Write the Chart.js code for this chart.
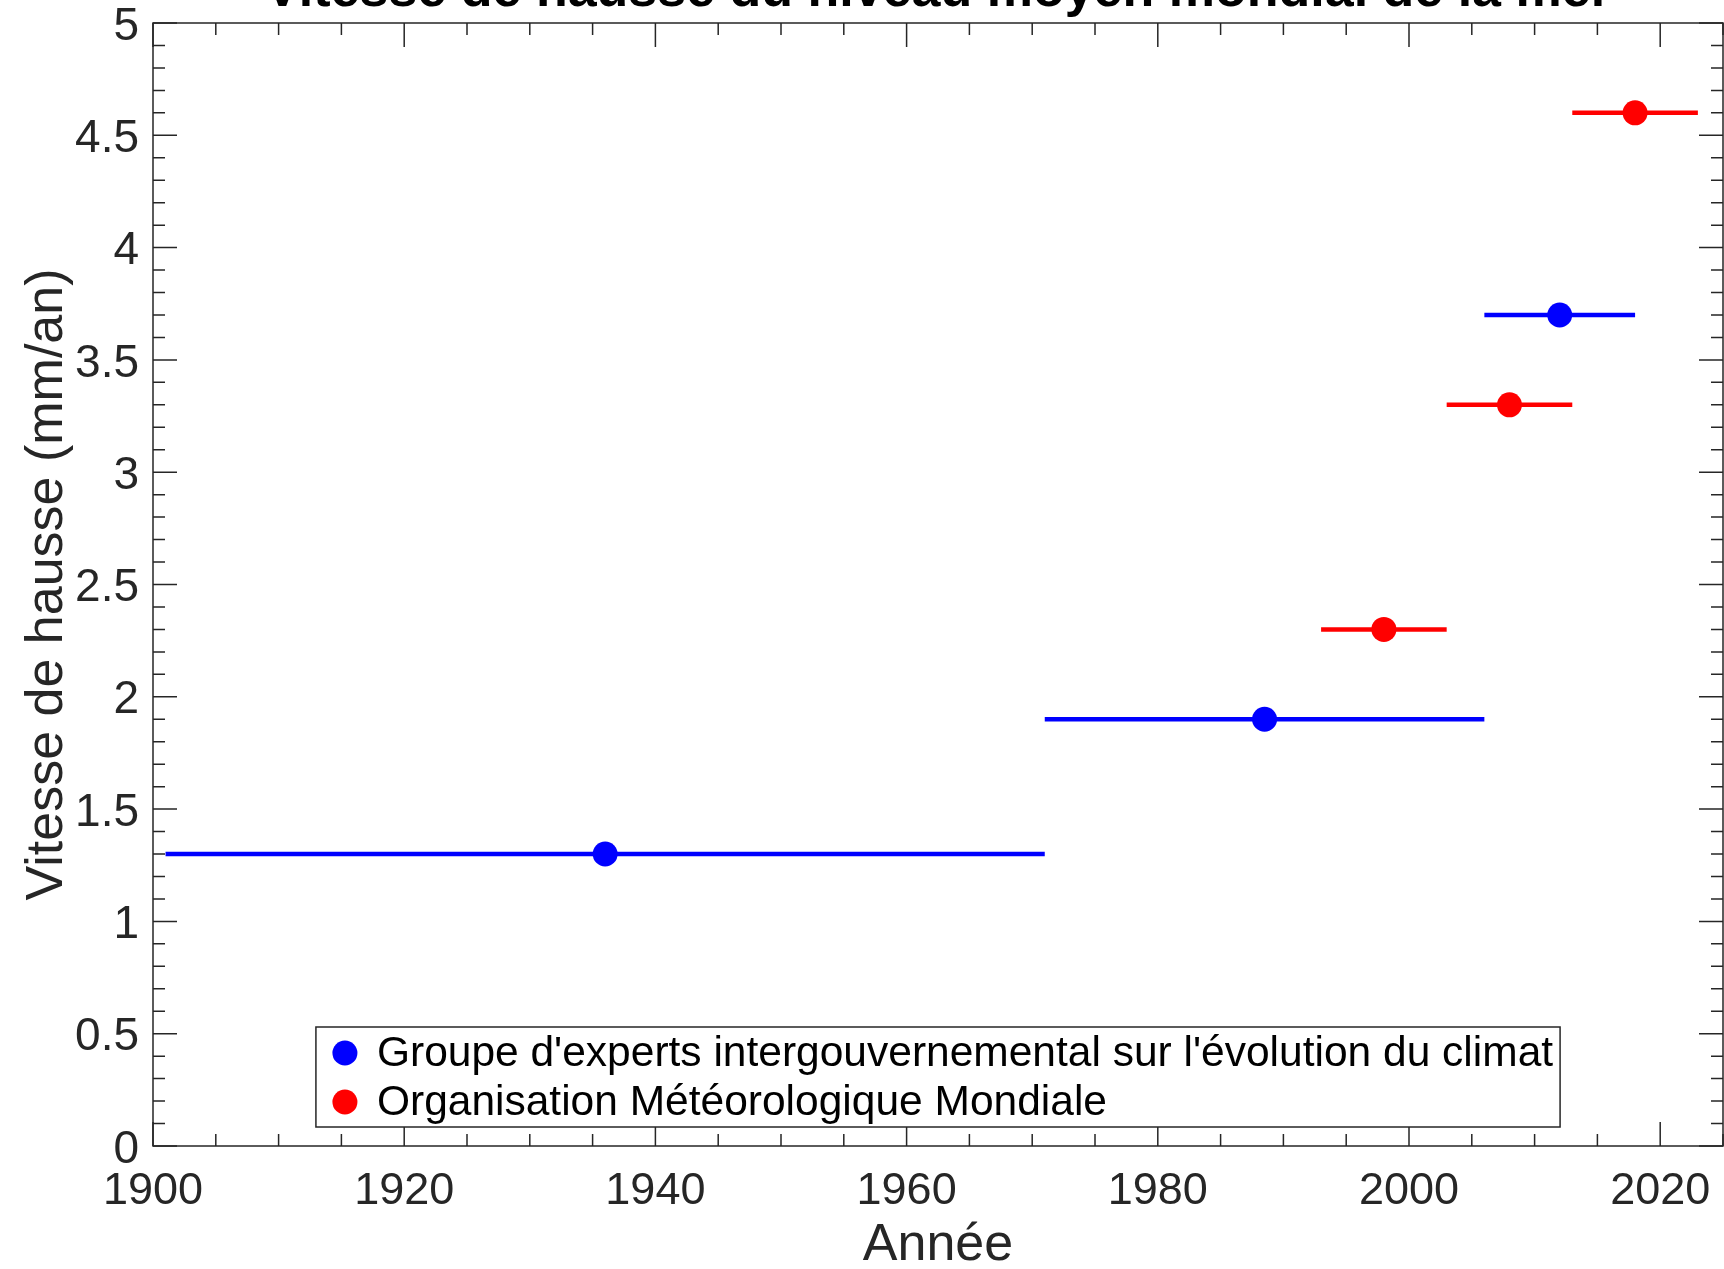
<!DOCTYPE html>
<html lang="fr">
<head>
<meta charset="utf-8">
<title>Vitesse de hausse du niveau moyen mondial de la mer</title>
<script src="https://cdn.jsdelivr.net/npm/chart.js@4.4.1/dist/chart.umd.min.js"></script>
<style>
  html, body { margin: 0; padding: 0; background: #fff; }
  #wrap { width: 1724px; height: 1269px; position: relative; }
</style>
</head>
<body>
<div id="wrap"><canvas id="seaLevelChart"></canvas></div>
<script>
// --- données ---
const chartTitle = 'Vitesse de hausse du niveau moyen mondial de la mer';
const xAxisLabel = 'Année';
const yAxisLabel = 'Vitesse de hausse (mm/an)';

const ipccLabel = "Groupe d'experts intergouvernemental sur l'évolution du climat";
const ipccStart = [1901, 1971, 2006];
const ipccEnd = [1971, 2006, 2018];
const ipccMid = [1936, 1988.5, 2012];
const ipccRate = [1.3, 1.9, 3.7];

const wmoLabel = 'Organisation Météorologique Mondiale';
const wmoStart = [1993, 2003, 2013];
const wmoEnd = [2003, 2013, 2023];
const wmoMid = [1998, 2008, 2018];
const wmoRate = [2.3, 3.3, 4.6];

const xTicks = [1900, 1920, 1940, 1960, 1980, 2000, 2020];
const yTicks = [0, 0.5, 1, 1.5, 2, 2.5, 3, 3.5, 4, 4.5, 5];

// --- styles ---
const FONT = '"Liberation Sans", Arial, Helvetica, sans-serif';
const axisColor = '#262626';
const ipccColor = '#0000ff';
const wmoColor = '#ff0000';

Chart.defaults.font.family = FONT;

function intervalDatasets(starts, ends, rates, color) {
    return rates.map((r, i) => ({
        data: [{ x: starts[i], y: r }, { x: ends[i], y: r }],
        showLine: true,
        borderColor: color,
        borderWidth: 4.5,
        pointRadius: 0,
        order: 2
    }));
}

function centerDataset(label, mids, rates, color) {
    return {
        label: label,
        data: mids.map((m, i) => ({ x: m, y: rates[i] })),
        backgroundColor: color,
        borderWidth: 0,
        pointRadius: 12.5,
        order: 1
    };
}

// boîte + graduations intérieures façon MATLAB
const axesBox = {
    id: 'axesBox',
    afterDatasetsDraw(chart) {
        const { ctx, chartArea: a, scales: { x, y } } = chart;
        ctx.save();
        ctx.strokeStyle = axisColor;
        ctx.lineWidth = 1.5;
        ctx.beginPath();
        for (let v = x.min; v <= x.max; v += 5) {
            const px = x.getPixelForValue(v);
            const len = xTicks.includes(v) ? 24 : 12;
            ctx.moveTo(px, a.bottom); ctx.lineTo(px, a.bottom - len);
            ctx.moveTo(px, a.top); ctx.lineTo(px, a.top + len);
        }
        for (let i = 0; i <= 50; i++) {
            const py = y.getPixelForValue(i / 10);
            const len = i % 5 === 0 ? 24 : 12;
            ctx.moveTo(a.left, py); ctx.lineTo(a.left + len, py);
            ctx.moveTo(a.right, py); ctx.lineTo(a.right - len, py);
        }
        ctx.stroke();
        ctx.strokeRect(a.left, a.top, a.right - a.left, a.bottom - a.top);
        ctx.restore();
    }
};

// légende encadrée en bas au centre
const legendBox = {
    id: 'legendBox',
    afterDraw(chart) {
        const { ctx, chartArea: a } = chart;
        const entries = chart.data.datasets.filter(d => d.label);
        ctx.save();
        ctx.font = '42.5px ' + FONT;
        const textW = Math.max(...entries.map(e => ctx.measureText(e.label).width));
        const w = 61 + textW + 7;
        const h = 100;
        const left = (a.left + a.right) / 2 - w / 2;
        const top = a.bottom - 19 - h;
        ctx.fillStyle = '#fff';
        ctx.fillRect(left, top, w, h);
        ctx.strokeStyle = axisColor;
        ctx.lineWidth = 1.5;
        ctx.strokeRect(left, top, w, h);
        entries.forEach((e, i) => {
            const cy = top + 26 + i * 49;
            ctx.fillStyle = e.backgroundColor;
            ctx.beginPath();
            ctx.arc(left + 29, cy, 12.5, 0, 2 * Math.PI);
            ctx.fill();
            ctx.fillStyle = '#000';
            ctx.textAlign = 'left';
            ctx.textBaseline = 'middle';
            ctx.fillText(e.label, left + 61, cy + 1);
        });
        ctx.restore();
    }
};

// titre coupé en haut comme sur l'original
const topTitle = {
    id: 'topTitle',
    afterDraw(chart) {
        const { ctx, chartArea: a } = chart;
        ctx.save();
        ctx.font = 'bold 52px ' + FONT;
        ctx.fillStyle = '#000';
        ctx.textAlign = 'center';
        ctx.textBaseline = 'alphabetic';
        ctx.fillText(chartTitle, (a.left + a.right) / 2, 6);
        ctx.restore();
    }
};

const datasets = [
    centerDataset(ipccLabel, ipccMid, ipccRate, ipccColor),
    centerDataset(wmoLabel, wmoMid, wmoRate, wmoColor),
    ...intervalDatasets(ipccStart, ipccEnd, ipccRate, ipccColor),
    ...intervalDatasets(wmoStart, wmoEnd, wmoRate, wmoColor)
];

new Chart(document.getElementById('seaLevelChart'), {
    type: 'scatter',
    data: { datasets: datasets },
    options: {
        responsive: true,
        maintainAspectRatio: false,
        animation: false,
        events: [],
        layout: { autoPadding: false, padding: { top: 23, right: 1, left: 0, bottom: 0 } },
        plugins: {
            legend: { display: false },
            tooltip: { enabled: false },
            title: { display: false }
        },
        scales: {
            x: {
                type: 'linear',
                min: 1900,
                max: 2025,
                afterBuildTicks: s => { s.ticks = xTicks.map(v => ({ value: v })); },
                afterFit: s => { s.height = 123; s.paddingLeft = 0; s.paddingRight = 0; },
                grid: { display: false, drawTicks: false },
                border: { display: false },
                ticks: {
                    autoSkip: false, maxRotation: 0, padding: 23, color: axisColor,
                    font: { size: 45, lineHeight: 1 },
                    callback: v => String(v)
                },
                title: {
                    display: true, text: xAxisLabel, color: axisColor,
                    font: { size: 52, lineHeight: 0.88 }, padding: { top: 0, bottom: 0 }
                }
            },
            y: {
                type: 'linear',
                min: 0,
                max: 5,
                afterBuildTicks: s => { s.ticks = yTicks.map(v => ({ value: v })); },
                afterFit: s => { s.width = 153; s.paddingTop = 0; s.paddingBottom = 0; },
                grid: { display: false, drawTicks: false },
                border: { display: false },
                ticks: {
                    padding: 14, labelOffset: 4, color: axisColor,
                    font: { size: 46, lineHeight: 1 },
                    callback: v => String(Math.round(v * 10) / 10)
                },
                title: {
                    display: true, text: yAxisLabel, color: axisColor,
                    font: { size: 52, lineHeight: 1 }, padding: { top: 22, bottom: 0 }
                }
            }
        }
    },
    plugins: [axesBox, legendBox, topTitle]
});
</script>
</body>
</html>
